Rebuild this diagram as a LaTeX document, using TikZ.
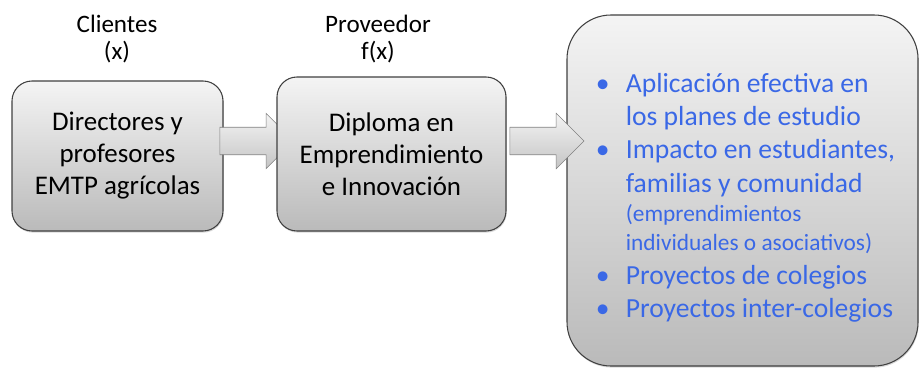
\documentclass[tikz,border=0pt]{standalone}
\usepackage{fontspec}
\setmainfont{Carlito}
\usetikzlibrary{shapes.arrows,shadows}
\definecolor{boxtop}{RGB}{244,244,244}
\definecolor{boxbot}{RGB}{186,186,186}
\definecolor{boxline}{RGB}{64,64,64}
\definecolor{outblue}{RGB}{58,104,230}
\newcommand{\outitem}[1]{\par\noindent\hangindent=22.5pt\hangafter=1\makebox[22.5pt][l]{\textbullet}#1\par}
\hfuzz=30pt

\begin{document}
\begin{tikzpicture}[x=0.75pt,y=-0.75pt,
  box/.style={draw=boxline,line width=0.8pt,rounded corners=15pt,top color=boxtop,bottom color=boxbot,
    align=center,font=\fontsize{20.2}{24}\selectfont,
    drop shadow={shadow xshift=0.5pt,shadow yshift=-1.2pt,opacity=0.3}},
  role/.style={align=center,font=\fontsize{18.8}{20.5}\selectfont},
  flow/.style={single arrow,draw=gray,line width=0.4pt,top color=boxtop,bottom color=boxbot!85,
    minimum height=55.5pt,inner xsep=0pt,inner ysep=10.1pt,single arrow head extend=10.5pt}]
  \useasboundingbox (0,0) rectangle (919,367);
  \node[box,minimum width=158.25pt,minimum height=112.5pt] (cli) at (117.5,156)
    {Directores y\\profesores\\EMTP agrícolas};
  \node[box,rounded corners=33pt,minimum width=263.25pt,minimum height=263.25pt,
    text width=232pt,align=none,text=outblue,font=\fontsize{20.7}{25}\selectfont] (res) at (742.5,190.5) {%
    \raggedright\leftskip=6pt
    \outitem{Aplicación efectiva en\newline los planes de estudio}
    \outitem{Impacto en estudiantes,\newline familias y comunidad}
    {\fontsize{17.5}{22}\selectfont\leftskip=28.5pt\noindent(emprendimientos\newline individuales o asociativos)\par}
    \outitem{Proyectos de colegios}
    \outitem{Proyectos inter-colegios}};
  \node[flow] (f1) at (250,141) {};
  \node[flow] (f2) at (540,141) {};
  \node[box,minimum width=171.75pt,minimum height=115.5pt] (dip) at (391.5,154)
    {Diploma en\\Emprendimiento\\e Innovación};
  \node[role] (lcli) at (117,39) {Clientes\\(x)};
  \node[role] (ldip) at (378,39) {Proveedor\\f(x)};
\end{tikzpicture}
\end{document}
